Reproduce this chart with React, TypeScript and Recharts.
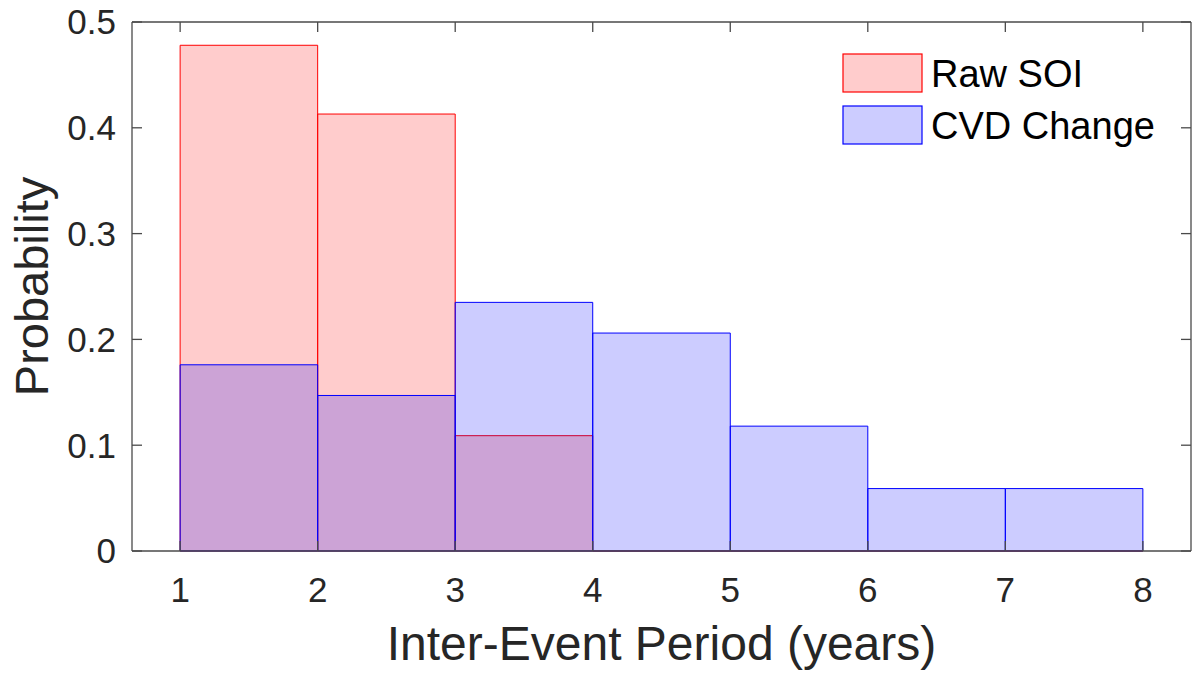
import React from 'react';
import { ComposedChart, XAxis, YAxis, ReferenceArea, ReferenceLine } from 'recharts';

// Histogram bin edges (years) and normalised bin probabilities
const binEdges = [1, 2, 3, 4, 5, 6, 7, 8];
const rawSoi = [0.478, 0.413, 0.109, 0, 0, 0, 0];
const cvdChange = [0.176, 0.147, 0.235, 0.206, 0.118, 0.059, 0.059];

const xTicks = [1, 2, 3, 4, 5, 6, 7, 8];
const yTicks = [0, 0.1, 0.2, 0.3, 0.4, 0.5];
const yTickLabels = ['0', '0.1', '0.2', '0.3', '0.4', '0.5'];

const seriesNames = ['Raw SOI', 'CVD Change'];
const seriesColors = ['#ff0000', '#0000ff'];

const xLabel = 'Inter-Event Period (years)';
const yLabel = 'Probability';

const FONT = '"Liberation Sans", Arial, Helvetica, sans-serif';
const TEXT_COLOR = '#262626';
const AXIS_COLOR = '#4a4a4a';
const TICK_LEN = 10;

const W = 1192;
const H = 673;
const X_DOMAIN: [number, number] = [0.65, 8.35];
const Y_DOMAIN: [number, number] = [0, 0.5];

// Each series is a list of bins: [left edge, right edge, probability]
const makeBins = (values: number[]) =>
  values.map((v, i) => ({ x1: binEdges[i], x2: binEdges[i + 1], y: v }));

const series = [makeBins(rawSoi), makeBins(cvdChange)];

// Rectangle drawn as a path so that empty (zero-height) bins still show their outline
const binShape = (color: string) => (props: any) => {
  const { x, y, width, height } = props;
  const x0 = Math.min(x, x + width);
  const y0 = Math.min(y, y + height);
  const w = Math.abs(width);
  const h = Math.abs(height);
  return (
    <path
      d={`M${x0},${y0}h${w}v${h}h${-w}Z`}
      fill={color}
      fillOpacity={0.2}
      stroke={color}
      strokeWidth={1}
    />
  );
};

// Inward tick marks: short stubs at both ends of a full-height / full-width reference line
const xTickShape = (props: any) => {
  const { x1, y1, y2 } = props;
  const top = Math.min(y1, y2);
  const bot = Math.max(y1, y2);
  return (
    <g stroke={AXIS_COLOR} strokeWidth={1.3}>
      <line x1={x1} x2={x1} y1={bot} y2={bot - TICK_LEN} />
      <line x1={x1} x2={x1} y1={top} y2={top + TICK_LEN} />
    </g>
  );
};

const yTickShape = (props: any) => {
  const { x1, x2, y1 } = props;
  const left = Math.min(x1, x2);
  const right = Math.max(x1, x2);
  return (
    <g stroke={AXIS_COLOR} strokeWidth={1.3}>
      <line x1={left} x2={left + TICK_LEN} y1={y1} y2={y1} />
      <line x1={right} x2={right - TICK_LEN} y1={y1} y2={y1} />
    </g>
  );
};

const tickStyle = { fontFamily: FONT, fontSize: 35, fill: TEXT_COLOR };
const axisLineStyle = { stroke: AXIS_COLOR, strokeWidth: 1.3 };

const LegendBox = () => (
  <svg width={330} height={95} style={{ display: 'block' }}>
    {seriesNames.map((name, i) => (
      <g key={name} transform={`translate(0, ${i * 52})`}>
        <rect
          x={1}
          y={1}
          width={79}
          height={38}
          fill={seriesColors[i]}
          fillOpacity={0.2}
          stroke={seriesColors[i]}
          strokeWidth={1.2}
        />
        <text x={89} y={34} fontFamily={FONT} fontSize={38} fill="#000">
          {name}
        </text>
      </g>
    ))}
  </svg>
);

export default function App() {
  return (
    <div style={{ position: 'absolute', left: 0, top: 0, width: W, height: H, background: '#fff' }}>
      <ComposedChart
        width={W}
        height={H}
        margin={{ top: 22, right: 1, bottom: 0, left: 0 }}
      >
        <XAxis
          xAxisId="bottom"
          type="number"
          dataKey="x"
          domain={X_DOMAIN}
          ticks={xTicks}
          allowDataOverflow
          orientation="bottom"
          height={122}
          axisLine={axisLineStyle}
          tickLine={false}
          tickSize={0}
          tickMargin={26}
          tick={tickStyle}
          interval={0}
          label={{
            content: (p: any) => {
              const vb = p.viewBox;
              return (
                <text
                  x={vb.x + vb.width / 2}
                  y={660}
                  textAnchor="middle"
                  fontFamily={FONT}
                  fontSize={48}
                  fill={TEXT_COLOR}
                >
                  {xLabel}
                </text>
              );
            },
          }}
        />
        <YAxis
          yAxisId="left"
          type="number"
          domain={Y_DOMAIN}
          ticks={yTicks}
          allowDataOverflow
          orientation="left"
          width={132}
          axisLine={axisLineStyle}
          tickLine={false}
          tickSize={0}
          tickMargin={16}
          tick={tickStyle}
          tickFormatter={(v: number) => yTickLabels[yTicks.indexOf(v)] ?? String(v)}
          interval={0}
          label={{
            content: (p: any) => {
              const vb = p.viewBox;
              const cy = vb.y + vb.height / 2;
              return (
                <text
                  x={48}
                  y={cy}
                  transform={`rotate(-90 48 ${cy})`}
                  textAnchor="middle"
                  fontFamily={FONT}
                  fontSize={47}
                  fill={TEXT_COLOR}
                >
                  {yLabel}
                </text>
              );
            },
          }}
        />

        {/* box edges on the top and right */}
        <ReferenceLine xAxisId="bottom" yAxisId="left" y={Y_DOMAIN[1]} stroke={AXIS_COLOR} strokeWidth={1.3} />
        <ReferenceLine xAxisId="bottom" yAxisId="left" x={X_DOMAIN[1]} stroke={AXIS_COLOR} strokeWidth={1.3} />

        {/* inward tick marks on all four sides */}
        {xTicks.map((t) => (
          <ReferenceLine key={`xt-${t}`} xAxisId="bottom" yAxisId="left" x={t} shape={xTickShape} />
        ))}
        {yTicks.map((t) => (
          <ReferenceLine key={`yt-${t}`} xAxisId="bottom" yAxisId="left" y={t} shape={yTickShape} />
        ))}

        {series.map((bins, s) =>
          bins.map((b, i) => (
            <ReferenceArea
              key={`${s}-${i}`}
              xAxisId="bottom"
              yAxisId="left"
              x1={b.x1}
              x2={b.x2}
              y1={0}
              y2={b.y}
              ifOverflow="visible"
              shape={binShape(seriesColors[s])}
            />
          ))
        )}
      </ComposedChart>
      <div style={{ position: 'absolute', left: 842, top: 53 }}>
        <LegendBox />
      </div>
    </div>
  );
}
